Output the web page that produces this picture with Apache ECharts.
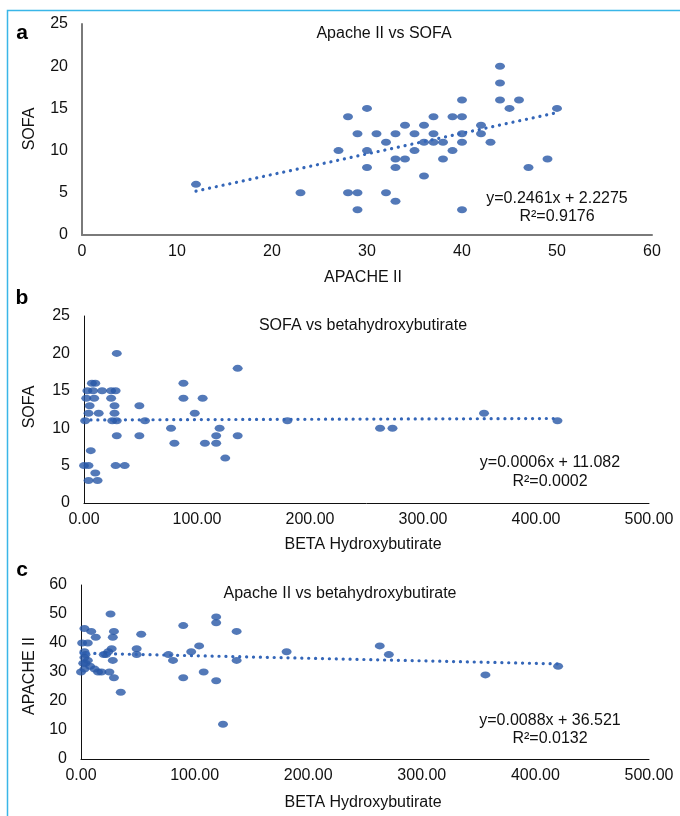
<!DOCTYPE html>
<html>
<head>
<meta charset="utf-8">
<script src="https://cdn.jsdelivr.net/npm/echarts@6.0.0/dist/echarts.min.js"></script>
<style>
    html, body { margin: 0; padding: 0; background: #fff; }
    #chart { width: 680px; height: 816px; }
</style>
</head>
<body>
<div id="chart"></div>
<script>
// a: Apache II vs SOFA
const apacheA = [12, 23, 27, 28, 28, 29, 29, 29, 30, 30, 30, 31, 32, 32, 33, 33, 33, 33, 34, 34, 35, 35, 36, 36, 36, 37, 37, 37, 38, 38, 39, 39, 40, 40, 40, 40, 40, 42, 42, 43, 44, 44, 44, 45, 46, 47, 49, 50]
const sofaA = [6, 5, 10, 14, 5, 12, 5, 3, 15, 10, 8, 12, 11, 5, 12, 9, 8, 4, 13, 9, 12, 10, 13, 11, 7, 14, 12, 11, 11, 9, 14, 10, 16, 14, 12, 11, 3, 13, 12, 11, 20, 18, 16, 15, 16, 8, 9, 15]
const trendA = [[12, 5.2], [50, 14.5]]

// b: SOFA vs betahydroxybutirate
const bhbB = [29, 136, 7, 10, 88, 3, 8, 16, 24, 28, 2, 9, 24, 88, 105, 5, 27, 49, 4, 13, 27, 98, 354, 1, 25, 29, 54, 180, 419, 77, 120, 262, 273, 29, 49, 117, 136, 80, 107, 117, 6, 125, 0, 4, 28, 36, 10, 4, 12]
const sofaB = [20, 18, 16, 16, 16, 15, 15, 15, 15, 15, 14, 14, 14, 14, 14, 13, 13, 13, 12, 12, 12, 12, 12, 11, 11, 11, 11, 11, 11, 10, 10, 10, 10, 9, 9, 9, 9, 8, 8, 8, 7, 6, 5, 5, 5, 5, 4, 3, 3]
const trendB = [[0, 11.1], [420, 11.3]]

// c: Apache II vs betahydroxybutirate
const bhbC = [26, 119, 119, 90, 29, 137, 53, 13, 28, 104, 49, 49, 77, 97, 81, 137, 28, 29, 90, 108, 119, 35, 125, 181, 263, 271, 356, 420, 27, 3, 9, 1, 6, 3, 20, 24, 4, 3, 6, 4, 8, 3, 12, 15, 18, 25, 0, 22, 2]
const apacheC = [50, 49, 47, 46, 44, 44, 43, 42, 42, 39, 38, 36, 36, 37, 34, 34, 34, 28, 28, 30, 27, 23, 12, 37, 39, 36, 29, 32, 38, 45, 44, 40, 40, 37, 36, 37, 36, 35, 34, 33, 32, 31, 31, 30, 30, 30, 30, 36, 33]
const trendC = [[0, 36.5], [420, 32.8]]

const FONT = "'Liberation Sans', Arial, sans-serif"
const BLUE = '#2857a6'
const TEXT = '#111'

const pairs = (xs, ys) => xs.map((x, i) => [x, ys[i]])

const xAxisConfig = (gridIndex, max, interval, digits, lineColor, lineWidth) => ({
    gridIndex,
    type: 'value',
    min: 0,
    max,
    interval,
    splitLine: { show: false },
    axisTick: { show: false },
    axisLine: { lineStyle: { color: lineColor, width: lineWidth } },
    axisLabel: {
        color: TEXT,
        fontFamily: FONT,
        fontSize: 16,
        margin: 9,
        formatter: v => v.toFixed(digits)
    }
})

const yAxisConfig = (gridIndex, max, interval, lineColor, lineWidth) => ({
    gridIndex,
    type: 'value',
    min: 0,
    max,
    interval,
    splitLine: { show: false },
    axisTick: { show: false },
    axisLine: { show: true, lineStyle: { color: lineColor, width: lineWidth } },
    axisLabel: {
        color: TEXT,
        fontFamily: FONT,
        fontSize: 16,
        margin: 14,
        padding: [6, 0, 0, 0]
    }
})

const scatter = (idx, data) => ({
    type: 'scatter',
    xAxisIndex: idx,
    yAxisIndex: idx,
    symbol: 'circle',
    symbolSize: [10, 7],
    itemStyle: { color: BLUE },
    data
})

const trend = (idx, data) => ({
    type: 'line',
    xAxisIndex: idx,
    yAxisIndex: idx,
    symbol: 'none',
    silent: true,
    lineStyle: { color: '#3466b8', width: 3.2, type: [0.1, 6.8], cap: 'round' },
    data
})

const txt = (text, x, y, size, extra) => Object.assign({
    type: 'text',
    x,
    y,
    style: {
        text,
        fill: TEXT,
        font: `${size}px ${FONT}`,
        textAlign: 'center',
        textVerticalAlign: 'middle'
    }
}, extra || {})

const letter = (text, y) => ({
    type: 'text',
    x: 22,
    y,
    style: {
        text,
        fill: '#000',
        font: `bold 21px ${FONT}`,
        textAlign: 'center',
        textVerticalAlign: 'middle'
    }
})

const chart = echarts.init(document.getElementById('chart'))

chart.setOption({
    backgroundColor: '#fff',
    animation: false,
    grid: [
        { left: 82, top: 24, width: 570, height: 211 },
        { left: 84, top: 316, width: 565, height: 187 },
        { left: 81, top: 585, width: 568, height: 174 }
    ],
    xAxis: [
        xAxisConfig(0, 60, 10, 0, '#7a7a7a', 2),
        xAxisConfig(1, 500, 100, 2, '#111', 1),
        xAxisConfig(2, 500, 100, 2, '#111', 1)
    ],
    yAxis: [
        yAxisConfig(0, 25, 5, '#7a7a7a', 2),
        yAxisConfig(1, 25, 5, '#111', 1),
        yAxisConfig(2, 60, 10, '#111', 1)
    ],
    series: [
        trend(0, trendA),
        scatter(0, pairs(apacheA, sofaA)),
        trend(1, trendB),
        scatter(1, pairs(bhbB, sofaB)),
        trend(2, trendC),
        scatter(2, pairs(bhbC, apacheC))
    ],
    graphic: [
        // light blue frame (left and top edges)
        {
            type: 'polyline',
            shape: { points: [[7.5, 816], [7.5, 10.5], [680, 10.5]] },
            style: { stroke: '#3ab6e8', lineWidth: 1.5, fill: null }
        },
        letter('a', 33),
        letter('b', 298),
        letter('c', 570),

        // panel a
        txt('Apache II vs SOFA', 384, 34, 16),
        txt('APACHE II', 363, 278, 16),
        txt('SOFA', 30, 129, 16, { rotation: Math.PI / 2 }),
        txt('y=0.2461x + 2.2275', 557, 199, 16),
        txt('R²=0.9176', 557, 217, 16),

        // panel b
        txt('SOFA vs betahydroxybutirate', 363, 326, 16),
        txt('BETA Hydroxybutirate', 363, 545, 16),
        txt('SOFA', 30, 407, 16, { rotation: Math.PI / 2 }),
        txt('y=0.0006x + 11.082', 550, 463, 16),
        txt('R²=0.0002', 550, 482, 16),

        // panel c
        txt('Apache II vs betahydroxybutirate', 340, 594, 16),
        txt('BETA Hydroxybutirate', 363, 803, 16),
        txt('APACHE II', 30, 676, 16, { rotation: Math.PI / 2 }),
        txt('y=0.0088x + 36.521', 550, 721, 16),
        txt('R²=0.0132', 550, 739, 16)
    ]
})
</script>
</body>
</html>
